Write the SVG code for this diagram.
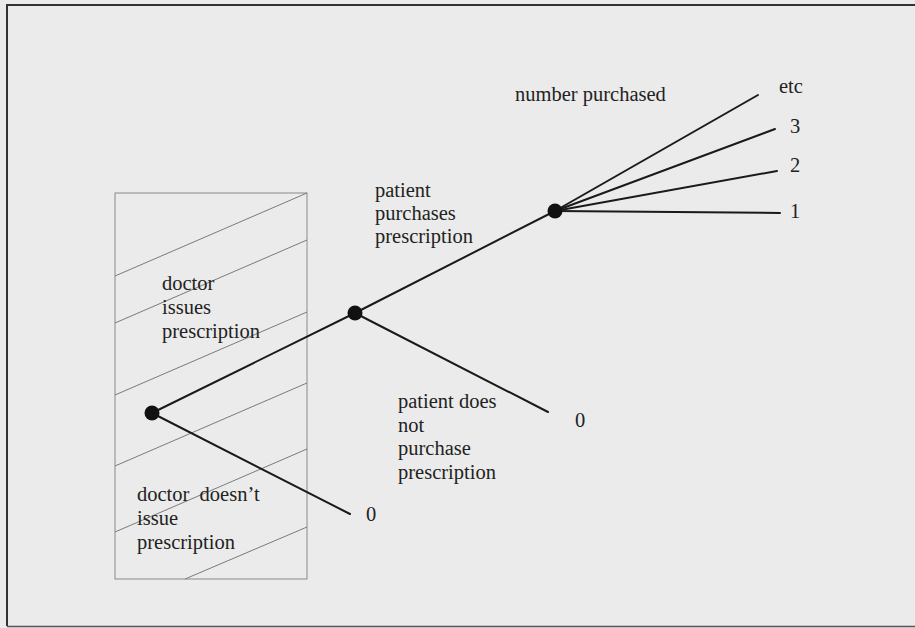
<svg xmlns="http://www.w3.org/2000/svg" width="915" height="628" viewBox="0 0 915 628">
<style>
  .t { font-family: "Liberation Serif", "Times New Roman", serif; font-size: 20.5px; fill: #222; }
  .hatch { stroke: #7a7a7a; stroke-width: 1; fill: none; }
  .edge { stroke: #1a1a1a; stroke-width: 2; fill: none; stroke-linecap: round; }
  .dot { fill: #111; }
</style>
<rect x="0" y="0" width="915" height="628" fill="#ebebeb"/>
<g id="frame">
  <path d="M7,626 L7,5 L915,5" fill="none" stroke="#333" stroke-width="2"/>
  <line x1="7" y1="626.5" x2="915" y2="626.5" stroke="#555" stroke-width="1.5"/>
</g>
<g id="doctor-box">
  <rect x="115" y="193" width="192" height="386" fill="none" stroke="#8a8a8a" stroke-width="1"/>
  <line class="hatch" x1="115" y1="276" x2="307" y2="193"/>
  <line class="hatch" x1="115" y1="323" x2="307" y2="240"/>
  <line class="hatch" x1="115" y1="395" x2="307" y2="312"/>
  <line class="hatch" x1="115" y1="466" x2="307" y2="383"/>
  <line class="hatch" x1="115" y1="532" x2="307" y2="449"/>
  <line class="hatch" x1="185" y1="579" x2="307" y2="527"/>
</g>
<g id="connectors">
  <line class="edge" x1="152" y1="413" x2="355" y2="313"/>
  <line class="edge" x1="152" y1="413" x2="350" y2="514"/>
  <line class="edge" x1="355" y1="313" x2="555" y2="211"/>
  <line class="edge" x1="355" y1="313" x2="548" y2="412"/>
  <line class="edge" x1="555" y1="211" x2="758" y2="95"/>
  <line class="edge" x1="555" y1="211" x2="775" y2="129"/>
  <line class="edge" x1="555" y1="211" x2="777" y2="171"/>
  <line class="edge" x1="555" y1="211" x2="780" y2="213"/>
</g>
<g id="node-root"><circle class="dot" cx="152" cy="413" r="7.5"/></g>
<g id="node-purchase"><circle class="dot" cx="355" cy="313" r="7.5"/></g>
<g id="node-number"><circle class="dot" cx="555" cy="211" r="7.5"/></g>
<g id="label-issue">
  <text class="t" x="162" y="290">doctor</text>
  <text class="t" x="162" y="314">issues</text>
  <text class="t" x="162" y="338">prescription</text>
</g>
<g id="label-not-issue">
  <text class="t" x="137" y="501" xml:space="preserve">doctor  doesn’t</text>
  <text class="t" x="137" y="525">issue</text>
  <text class="t" x="137" y="549">prescription</text>
</g>
<g id="label-purchase">
  <text class="t" x="375" y="197">patient</text>
  <text class="t" x="375" y="220">purchases</text>
  <text class="t" x="375" y="243">prescription</text>
</g>
<g id="label-not-purchase">
  <text class="t" x="398" y="408">patient does</text>
  <text class="t" x="398" y="432">not</text>
  <text class="t" x="398" y="455">purchase</text>
  <text class="t" x="398" y="479">prescription</text>
</g>
<g id="label-number">
  <text class="t" x="515" y="101">number purchased</text>
</g>
<g id="outcomes">
  <text class="t" x="366" y="521">0</text>
  <text class="t" x="575" y="427">0</text>
  <text class="t" x="779" y="93">etc</text>
  <text class="t" x="790" y="133">3</text>
  <text class="t" x="790" y="172">2</text>
  <text class="t" x="790" y="218">1</text>
</g>
</svg>
